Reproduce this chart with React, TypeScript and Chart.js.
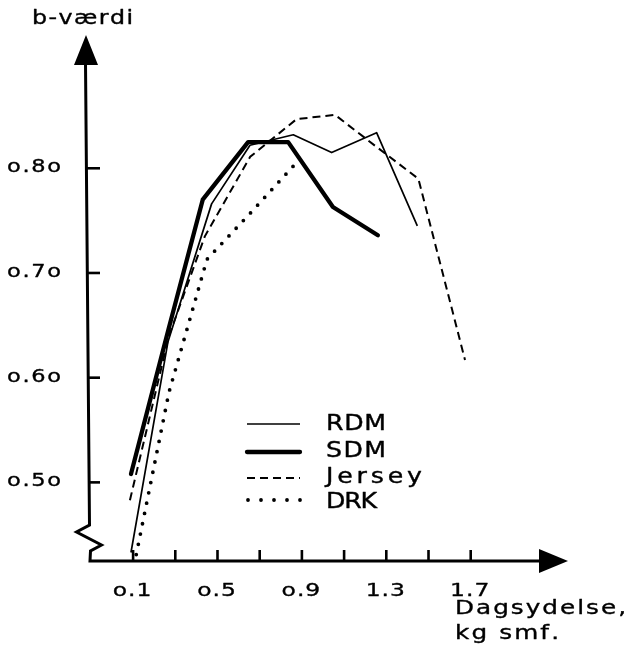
import React, { useEffect, useRef } from "react";
import { Chart, registerables } from "chart.js";

Chart.register(...registerables);

// ---- data ----
const seriesNames = ["RDM", "SDM", "Jersey", "DRK"];
const rdmX = [0.09, 0.265, 0.472, 0.654, 0.859, 1.041, 1.254, 1.447];
const rdmY = [0.433, 0.634, 0.766, 0.822, 0.832, 0.815, 0.834, 0.745];
const sdmX = [0.09, 0.27, 0.43, 0.645, 0.835, 1.047, 1.26];
const sdmY = [0.508, 0.648, 0.77, 0.825, 0.825, 0.763, 0.736];
const jerseyX = [0.085, 0.27, 0.44, 0.655, 0.875, 1.057, 1.25, 1.452, 1.673];
const jerseyY = [0.483, 0.64, 0.735, 0.811, 0.847, 0.851, 0.821, 0.79, 0.617];
const drkX = [0.115, 0.27, 0.45, 0.655, 0.877];
const drkY = [0.431, 0.586, 0.713, 0.757, 0.806];

const xTickValues = [0.1, 0.3, 0.5, 0.7, 0.9, 1.1, 1.3, 1.5, 1.7];
const xLabelValues = [0.1, 0.5, 0.9, 1.3, 1.7];
const xLabels = ["o.1", "o.5", "o.9", "1.3", "1.7"];
const yTickValues = [0.5, 0.6, 0.7, 0.8];
const yLabels = ["o.5o", "o.6o", "o.7o", "o.8o"];
const yTitle = "b-værdi";
const xTitleLines = ["Dagsydelse,", "kg smf."];

const X_MIN = -0.1137;
const X_MAX = 2.1611;
const Y_MIN = 0.4249;
const Y_MAX = 0.9273;

const FONT = '"DejaVu Sans", "Liberation Sans", sans-serif';
const INK = "#000";

function pts(xs: number[], ys: number[]) {
  return xs.map((x, i) => ({ x, y: ys[i] }));
}

// draw text char by char, horizontally stretched, fit to width (or with fixed spacing)
function drawText(
  ctx: CanvasRenderingContext2D,
  text: string,
  x: number,
  y: number,
  size: number,
  opts: { sx?: number; width?: number; spacing?: number; align?: "left" | "center" } = {}
) {
  const sx = opts.sx ?? 1.3;
  ctx.font = `${size}px ${FONT}`;
  ctx.textBaseline = "alphabetic";
  ctx.textAlign = "left";
  ctx.lineJoin = "round";
  ctx.strokeStyle = INK;
  const chars = Array.from(text);
  const ws = chars.map((c) => ctx.measureText(c).width * sx);
  const nat = ws.reduce((a, b) => a + b, 0);
  let sp = opts.spacing ?? 0;
  if (opts.width != null && chars.length > 1) sp = (opts.width - nat) / (chars.length - 1);
  const total = nat + sp * (chars.length - 1);
  let cx = opts.align === "center" ? x - total / 2 : x;
  chars.forEach((c, i) => {
    ctx.save();
    ctx.translate(cx, y);
    ctx.scale(sx, 1);
    ctx.fillText(c, 0, 0);
    ctx.lineWidth = 0.45 / sx;
    ctx.strokeText(c, 0, 0);
    ctx.restore();
    cx += ws[i] + sp;
  });
}

const handDrawnAxes = {
  id: "handDrawnAxes",
  beforeDatasetsDraw(chart: any) {
    const { ctx, chartArea, scales } = chart;
    const xs = scales.x;
    const ys = scales.y;
    const L = chartArea.left;
    const R = chartArea.right;
    const T = chartArea.top;
    const B = chartArea.bottom;
    ctx.save();
    ctx.strokeStyle = INK;
    ctx.fillStyle = INK;
    ctx.lineCap = "butt";
    ctx.lineJoin = "miter";

    // y axis (slightly tilted, as drawn by hand) with break zigzag
    const axTopX = L - 2.5;
    const axBotX = L + 1.5;
    const axTopY = T + 28;
    const axBotY = B - 36;
    const axisXAt = (py: number) => axTopX + ((py - axTopY) / (axBotY - axTopY)) * (axBotX - axTopX);
    ctx.lineWidth = 3;
    ctx.beginPath();
    ctx.moveTo(axTopX, axTopY);
    ctx.lineTo(axBotX, axBotY);
    ctx.lineTo(L - 11.5, B - 29);
    ctx.lineTo(L + 13.5, B - 16);
    ctx.lineTo(L + 2.5, B - 10);
    ctx.lineTo(L + 2, B);
    ctx.lineTo(R - 27, B);
    ctx.stroke();

    // arrows
    ctx.beginPath();
    ctx.moveTo(L - 2, T);
    ctx.lineTo(L - 14, T + 30);
    ctx.lineTo(L + 10, T + 30);
    ctx.closePath();
    ctx.fill();
    ctx.beginPath();
    ctx.moveTo(R, B);
    ctx.lineTo(R - 29, B - 12);
    ctx.lineTo(R - 29, B + 12);
    ctx.closePath();
    ctx.fill();

    // y ticks
    ctx.lineWidth = 2.6;
    yTickValues.forEach((v) => {
      const py = ys.getPixelForValue(v);
      ctx.beginPath();
      ctx.moveTo(axisXAt(py), py);
      ctx.lineTo(L + 12, py);
      ctx.stroke();
    });
    // x ticks
    xTickValues.forEach((v) => {
      const px = xs.getPixelForValue(v);
      ctx.beginPath();
      ctx.moveTo(px, B);
      ctx.lineTo(px, B - 11);
      ctx.stroke();
    });
    ctx.restore();
  },
  afterDraw(chart: any) {
    const { ctx, chartArea, scales } = chart;
    const xs = scales.x;
    const ys = scales.y;
    const B = chartArea.bottom;
    ctx.save();
    ctx.fillStyle = INK;

    // y labels
    yTickValues.forEach((v, i) => {
      const py = ys.getPixelForValue(v);
      drawText(ctx, yLabels[i], 7, py + 4, 18, { width: 54, sx: 1.25 });
    });
    // x labels
    xLabelValues.forEach((v, i) => {
      const px = xs.getPixelForValue(v);
      drawText(ctx, xLabels[i], px - 1, B + 35, 18, { spacing: 1, align: "center", sx: 1.3 });
    });
    // titles
    drawText(ctx, yTitle, 32, 24, 19, { width: 101, sx: 1.25 });
    drawText(ctx, xTitleLines[0], 455, 614, 19, { width: 171, sx: 1.3 });
    drawText(ctx, xTitleLines[1], 455, 639, 19, { width: 104, sx: 1.3 });

    // legend
    const legendY = [424, 452, 478, 500];
    const textY = [429.5, 457, 483, 508];
    const textW = [60, 60, 96, 51];
    const lx0 = 247;
    const lx1 = 300;
    chart.data.datasets.forEach((ds: any, i: number) => {
      ctx.save();
      ctx.strokeStyle = ds.borderColor;
      ctx.lineWidth = ds.borderWidth;
      ctx.lineCap = ds.borderCapStyle || "butt";
      ctx.setLineDash(i === 3 ? [0, 13] : ds.borderDash || []);
      ctx.beginPath();
      ctx.moveTo(lx0 + (i === 3 ? 1 : 0), legendY[i]);
      ctx.lineTo(lx1 + (i === 3 ? 1 : 0), legendY[i]);
      ctx.stroke();
      ctx.restore();
      drawText(ctx, seriesNames[i], 326, textY[i], 21, { width: textW[i], sx: 1.2 });
    });
    ctx.restore();
  },
};

export default function App() {
  const ref = useRef<HTMLCanvasElement | null>(null);
  useEffect(() => {
    if (!ref.current) return;
    const chart = new Chart(ref.current, {
      type: "line",
      data: {
        datasets: [
          {
            label: seriesNames[0],
            data: pts(rdmX, rdmY),
            borderColor: INK,
            borderWidth: 1.7,
            borderJoinStyle: "round",
            pointRadius: 0,
            tension: 0,
            clip: false,
          },
          {
            label: seriesNames[1],
            data: pts(sdmX, sdmY),
            borderColor: INK,
            borderWidth: 4.3,
            borderJoinStyle: "round",
            borderCapStyle: "round",
            pointRadius: 0,
            tension: 0,
            clip: false,
          },
          {
            label: seriesNames[2],
            data: pts(jerseyX, jerseyY),
            borderColor: INK,
            borderWidth: 2,
            borderDash: [8, 5],
            pointRadius: 0,
            tension: 0,
            clip: false,
          },
          {
            label: seriesNames[3],
            data: pts(drkX, drkY),
            borderColor: INK,
            borderWidth: 3.8,
            borderDash: [0, 10.5],
            borderCapStyle: "round",
            pointRadius: 0,
            tension: 0,
            clip: false,
          },
        ] as any,
      },
      options: {
        animation: false,
        responsive: false,
        devicePixelRatio: 1,
        layout: { padding: { left: 88, right: 61, top: 35, bottom: 85 } },
        plugins: { legend: { display: false }, tooltip: { enabled: false }, title: { display: false } },
        events: [],
        scales: {
          x: { type: "linear", min: X_MIN, max: X_MAX, display: false },
          y: { type: "linear", min: Y_MIN, max: Y_MAX, display: false },
        },
      },
      plugins: [handDrawnAxes],
    });
    return () => chart.destroy();
  }, []);
  return (
    <div style={{ position: "fixed", left: 0, top: 0, width: 629, height: 646, background: "#fff" }}>
      <canvas ref={ref} width={629} height={646} style={{ display: "block", width: 629, height: 646 }} />
    </div>
  );
}
